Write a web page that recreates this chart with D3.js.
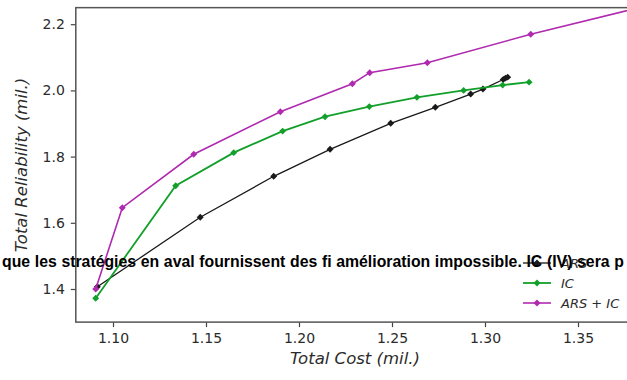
<!DOCTYPE html>
<html><head><meta charset="utf-8">
<script src="https://cdn.jsdelivr.net/npm/d3@7/dist/d3.min.js"></script>
<style>
html,body{margin:0;padding:0;background:#fff;}
svg{display:block;}
</style></head>
<body>
<svg id="chart" width="627" height="380"></svg>
<script>
const seriesNames = ["ARS", "IC", "ARS + IC"];
const seriesColors = ["#1a1a1a", "#12a02a", "#b02ab0"];
const arsCost = [1.0916, 1.1469, 1.1864, 1.2167, 1.2493, 1.2733, 1.2923, 1.2989, 1.3098, 1.3110, 1.3122];
const arsRel  = [1.407, 1.6166, 1.7405, 1.822, 1.9006, 1.949, 1.989, 2.004, 2.033, 2.037, 2.040];
const icCost = [1.0907, 1.1337, 1.1649, 1.1912, 1.2140, 1.2378, 1.2634, 1.2885, 1.3095, 1.3237];
const icRel  = [1.372, 1.712, 1.812, 1.877, 1.9205, 1.951, 1.979, 2.000, 2.016, 2.025];
const bothCost = [1.0907, 1.1050, 1.1434, 1.1900, 1.2287, 1.2380, 1.2690, 1.3246, 1.3850];
const bothRel  = [1.400, 1.6456, 1.807, 1.9357, 2.020, 2.0535, 2.0837, 2.1695, 2.2530];
const xTicks = [1.10, 1.15, 1.20, 1.25, 1.30, 1.35];
const yTicks = [1.4, 1.6, 1.8, 2.0, 2.2];
const xLabel = "Total Cost (mil.)";
const yLabel = "Total Reliability (mil.)";
const overlayText = "que les stratégies en aval fournissent des fi amélioration impossible. IC (IV) sera p";

const svg = d3.select("#chart");
const pL = 75.8, pT = 7.65, pB = 322.1, pR = 671;
const x = d3.scaleLinear().domain([1.08, 1.40]).range([pL, pR]);
const y = d3.scaleLinear().domain([1.30, 2.25]).range([pB, pT]);

const series = [
  {name: seriesNames[0], color: seriesColors[0], w: 1.3, pts: arsCost.map((c,i)=>[c, arsRel[i]])},
  {name: seriesNames[1], color: seriesColors[1], w: 1.8, pts: icCost.map((c,i)=>[c, icRel[i]])},
  {name: seriesNames[2], color: seriesColors[2], w: 1.6, pts: bothCost.map((c,i)=>[c, bothRel[i]])}
];

svg.append("defs").append("clipPath").attr("id","clip")
  .append("rect").attr("x", pL).attr("y", pT).attr("width", pR-pL).attr("height", pB-pT);

const textColor = "#2b2b2b";
const font = "DejaVu Sans, sans-serif";

const xAxis = svg.append("g").attr("transform", `translate(0,${pB})`)
  .call(d3.axisBottom(x).tickValues(xTicks).tickFormat(d3.format(".2f")).tickSize(5).tickPadding(6));
const yAxis = svg.append("g").attr("transform", `translate(${pL},0)`)
  .call(d3.axisLeft(y).tickValues(yTicks).tickFormat(d3.format(".1f")).tickSize(5).tickPadding(6));
[xAxis, yAxis].forEach(g => {
  g.select(".domain").remove();
  g.selectAll("line").attr("stroke", "#444").attr("stroke-width", 1.2);
  g.selectAll("text").attr("fill", textColor).style("font-family", font).style("font-size", "14px");
});
svg.append("rect").attr("x", pL).attr("y", pT).attr("width", pR-pL).attr("height", pB-pT)
  .attr("fill","none").attr("stroke","#555").attr("stroke-width",1.5);

const plot = svg.append("g").attr("clip-path","url(#clip)");
const line = d3.line().x(d=>x(d[0])).y(d=>y(d[1]));
const marker = d3.symbol().type(d3.symbolSquare).size(24);
series.forEach(s => {
  plot.append("path").datum(s.pts).attr("d", line).attr("fill","none")
    .attr("stroke", s.color).attr("stroke-width", s.w);
  plot.selectAll(null).data(s.pts).enter().append("path")
    .attr("d", marker).attr("transform", d=>`translate(${x(d[0])},${y(d[1])}) rotate(45)`)
    .attr("fill", s.color);
});

svg.append("text").attr("x", 355).attr("y", 364).attr("text-anchor","middle")
  .attr("fill", textColor).style("font-family", font).style("font-size","16.5px").style("font-style","italic")
  .text(xLabel);
svg.append("text").attr("transform", `translate(27,165) rotate(-90)`).attr("text-anchor","middle")
  .attr("fill", textColor).style("font-family", font).style("font-size","16.5px").style("font-style","italic")
  .text(yLabel);

const lg = svg.append("g");
series.forEach((s,i) => {
  const yy = 263 + i*20;
  lg.append("line").attr("x1", 523).attr("x2", 551).attr("y1", yy).attr("y2", yy)
    .attr("stroke", s.color).attr("stroke-width", s.w);
  lg.append("path").attr("d", marker).attr("transform", `translate(537,${yy}) rotate(45)`).attr("fill", s.color);
  lg.append("text").attr("x", 561).attr("y", yy+5).attr("fill", textColor)
    .style("font-family", font).style("font-size","13px").style("font-style","italic").text(s.name);
});

svg.append("text").attr("x", 2).attr("y", 267).attr("fill", "#000")
  .style("font-family", "Liberation Sans, Arial, sans-serif").style("font-size","15.8px").style("font-weight","bold")
  .style("word-spacing","0.3px")
  .text(overlayText);
</script>
</body></html>
